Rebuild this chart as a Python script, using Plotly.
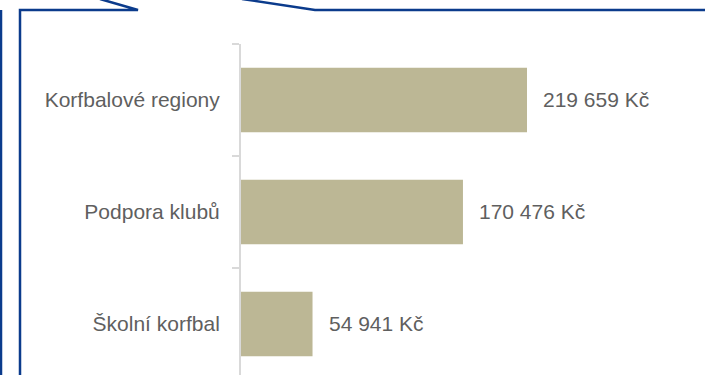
import plotly.graph_objects as go

categories = ["Školní korfbal", "Podpora klubů", "Korfbalové regiony"]
values = [54941, 170476, 219659]
value_labels = ["54 941 Kč", "170 476 Kč", "219 659 Kč"]

W, H = 705, 375
ML, MT = 241, 44
PW, PH = W - ML, H - MT

def px(x, y):
    return (x - ML) / PW, (H - y) / PH

def path(points):
    parts = []
    for i, (x, y) in enumerate(points):
        a, b = px(x, y)
        parts.append(("M" if i == 0 else "L") + f" {a:.5f},{b:.5f}")
    return " ".join(parts)

blue = "#0b3b8c"
text_col = "#5f5f5f"
font_family = "Liberation Sans, Arial, sans-serif"

fig = go.Figure()
fig.add_trace(go.Bar(
    y=categories, x=values, orientation="h",
    marker=dict(color="#BCB795", line=dict(width=0)),
    width=0.575, hoverinfo="skip",
))

for c, v, t in zip(categories, values, value_labels):
    fig.add_annotation(x=v, y=c, text=t, xanchor="left", yanchor="middle",
                       xshift=14, yshift=1, showarrow=False,
                       font=dict(size=21, color=text_col, family=font_family))

shapes = []
for pts in [
    [(20, 376), (20, 10), (138, 10), (100, -1)],
    [(242, -1), (315, 10), (707, 10)],
    [(1, 10), (1, 376)],
]:
    shapes.append(dict(type="path", xref="paper", yref="paper", path=path(pts),
                       line=dict(color=blue, width=2.5), layer="above"))

xmax = PW * values[2] / 286.0

fig.update_layout(
    width=W, height=H,
    margin=dict(l=ML, r=0, t=MT, b=0, pad=0),
    paper_bgcolor="white", plot_bgcolor="white",
    showlegend=False,
    shapes=shapes,
    xaxis=dict(range=[0, xmax], visible=False, showgrid=False, zeroline=False),
    yaxis=dict(
        range=[2.5 - PH / 112.0, 2.5],
        showgrid=False, zeroline=False,
        showline=True, linecolor="#d9d9d9", linewidth=2,
        ticks="outside", tickson="boundaries", ticklen=7, tickcolor="#d9d9d9", tickwidth=2,
        ticklabelstandoff=15,
        tickfont=dict(size=21, color=text_col, family=font_family),
    ),
)

fig.write_html("out.html", config={"displayModeBar": False},
               post_script="document.body.style.margin='0';")
